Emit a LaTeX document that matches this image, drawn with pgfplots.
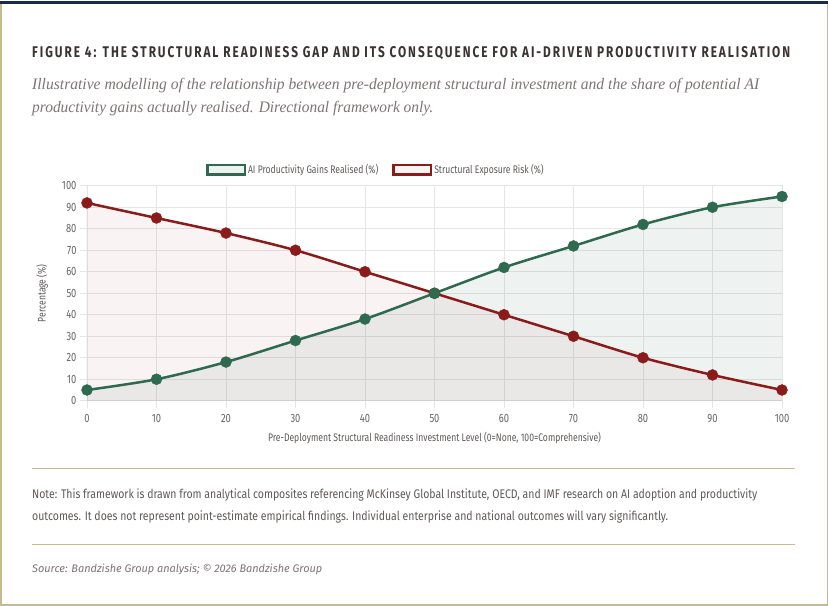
\documentclass[border=0pt]{standalone}
\usepackage{pgfplots}
\pgfplotsset{compat=1.18}
\usepackage{pgfplotstable}
\usepackage{graphicx}
\usepackage{fontspec}
\setmainfont{Fira Sans}[FakeStretch=0.78]
\newfontfamily\titlefont{Fira Sans}[FakeStretch=0.72, LetterSpace=12]
\newfontfamily\serifit{Liberation Serif}
\definecolor{navy}{HTML}{1B2A4A}
\definecolor{tanc}{HTML}{C8B98F}
\definecolor{gcol}{HTML}{2D6A4F}
\definecolor{rcol}{HTML}{8B1A1A}
\definecolor{gridc}{HTML}{E6E6E6}
\definecolor{axc}{HTML}{CFCFCF}
\definecolor{titlec}{HTML}{3B3331}
\definecolor{subc}{HTML}{7D7573}
\definecolor{notec}{HTML}{5F5A57}
\definecolor{tickc}{HTML}{666666}

\pgfplotstableread{
x g r
0 5 92
10 10 85
20 18 78
30 28 70
40 38 60
50 50 50
60 62 40
70 72 30
80 82 20
90 90 12
100 95 5
}\data

\begin{document}
\begin{tikzpicture}[x=1pt,y=1pt]
\fill[white] (0,0) rectangle (828,605);
\draw[tanc, line width=1.5pt] (0.75,605) -- (0.75,0.75) -- (827.25,0.75) -- (827.25,605);
\fill[navy] (0,602) rectangle (828,605);

\node[anchor=base west, inner sep=0, text=titlec] at (32,548)
  {\resizebox{758pt}{\height}{\titlefont\bfseries\fontsize{15.5}{18}\selectfont FIGURE 4: THE STRUCTURAL READINESS GAP AND ITS CONSEQUENCE FOR AI-DRIVEN PRODUCTIVITY REALISATION}};
\node[anchor=base west, inner sep=0, text=subc] at (32,516)
  {\resizebox{727pt}{\height}{\serifit\itshape\fontsize{16}{19}\selectfont Illustrative modelling of the relationship between pre-deployment structural investment and the share of potential AI}};
\node[anchor=base west, inner sep=0, text=subc] at (32,493)
  {\resizebox{401pt}{\height}{\serifit\itshape\fontsize{16}{19}\selectfont productivity gains actually realised. Directional framework only.}};

\draw[tanc, line width=1pt] (32,137) -- (795,137);
\draw[tanc, line width=1pt] (32,61) -- (795,61);
\node[anchor=base west, inner sep=0, text=notec] at (32,107)
  {\resizebox{725pt}{\height}{\fontsize{12.5}{15}\selectfont Note: This framework is drawn from analytical composites referencing McKinsey Global Institute, OECD, and IMF research on AI adoption and productivity}};
\node[anchor=base west, inner sep=0, text=notec] at (32,85)
  {\resizebox{636pt}{\height}{\fontsize{12.5}{15}\selectfont outcomes. It does not represent point-estimate empirical findings. Individual enterprise and national outcomes will vary significantly.}};
\node[anchor=base west, inner sep=0, text=subc] at (32,33.5)
  {\resizebox{290pt}{\height}{\itshape\fontsize{11}{13}\selectfont Source: Bandzishe Group analysis; \textcopyright{} 2026 Bandzishe Group}};

\begin{axis}[
  at={(87pt,205pt)}, anchor=south west,
  scale only axis, width=695pt, height=215pt,
  xmin=0, xmax=100, ymin=0, ymax=100,
  xtick={0,10,...,100}, ytick={0,10,...,100},
  xtick pos=bottom, ytick pos=left,
  tick align=outside, major tick length=7pt,
  tick style={draw=gridc, line width=0.8pt},
  grid=major, grid style={draw=gridc, line width=0.8pt},
  axis line style={draw=gridc, line width=0.8pt},
  /pgf/number format/assume math mode=true,
  ticklabel style={font=\fontsize{12}{14}\selectfont, text=tickc},
  xticklabel style={yshift=-3pt},
  xlabel={Pre-Deployment Structural Readiness Investment Level (0=None, 100=Comprehensive)},
  ylabel={Percentage (\%)},
  label style={font=\fontsize{11}{13}\selectfont, text=notec},
  xlabel style={at={(axis description cs:0.5,-0.172)}, anchor=center},
  ylabel style={at={(axis description cs:-0.0647,0.5)}, anchor=center},
  legend style={at={(axis description cs:0.171,1.074)}, anchor=west, draw=none, fill=none,
    inner sep=0pt, font=\fontsize{11}{13}\selectfont, text=notec,
    /tikz/every even column/.append style={column sep=12pt}},
  legend columns=-1, legend cell align=left,
]
\addplot[draw=none, fill=rcol, fill opacity=0.05, smooth, forget plot] table[x=x,y=r] {\data} \closedcycle;
\addplot[draw=none, fill=gcol, fill opacity=0.08, smooth, forget plot] table[x=x,y=g] {\data} \closedcycle;
\draw[axc, line width=1pt] (axis cs:0,0) -- (axis cs:100,0);
\draw[axc, line width=1pt] (axis cs:0,0) -- (axis cs:0,100);
\addplot[rcol, line width=2.5pt, smooth, mark=*, mark size=5.5pt, mark options={solid, fill=rcol, draw=rcol, line width=0.4pt}, forget plot] table[x=x,y=r] {\data};
\addplot[gcol, line width=2.5pt, smooth, mark=*, mark size=5.5pt, mark options={solid, fill=gcol, draw=gcol, line width=0.4pt}, forget plot] table[x=x,y=g] {\data};
\addlegendimage{legend image code/.code={\draw[line width=2.5pt, draw=gcol, fill=gcol!8] (0pt,-4.75pt) rectangle (37.5pt,4.75pt);}}
\addlegendentry{AI Productivity Gains Realised (\%)}
\addlegendimage{legend image code/.code={\draw[line width=2.5pt, draw=rcol, fill=rcol!5] (0pt,-4.75pt) rectangle (37.5pt,4.75pt);}}
\addlegendentry{Structural Exposure Risk (\%)}
\end{axis}
\end{tikzpicture}
\end{document}
